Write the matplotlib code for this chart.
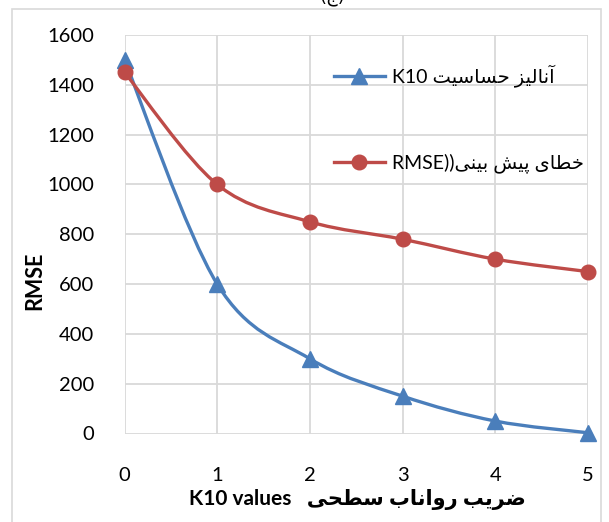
import matplotlib
matplotlib.use("Agg")
import matplotlib.pyplot as plt
from matplotlib.path import Path
from matplotlib.patches import PathPatch, Rectangle
from matplotlib.lines import Line2D

# chart data
k_values = [0, 1, 2, 3, 4, 5]
sensitivity = [1500, 600, 300, 150, 50, 3]
rmse = [1450, 1000, 850, 780, 700, 650]
y_ticks = [0, 200, 400, 600, 800, 1000, 1200, 1400, 1600]

label_sens = "آنالیز حساسیت"
label_rmse = "خطای پیش بینی"
x_title = "ضریب رواناب سطحی"
chart_title = "ج"

# arabic presentation forms: isolated, final, initial, medial
FORMS = {
    "آ": ("\uFE81", "\uFE82", None, None),
    "ا": ("\uFE8D", "\uFE8E", None, None),
    "ب": ("\uFE8F", "\uFE90", "\uFE91", "\uFE92"),
    "پ": ("\uFB56", "\uFB57", "\uFB58", "\uFB59"),
    "ت": ("\uFE95", "\uFE96", "\uFE97", "\uFE98"),
    "ج": ("\uFE9D", "\uFE9E", "\uFE9F", "\uFEA0"),
    "ح": ("\uFEA1", "\uFEA2", "\uFEA3", "\uFEA4"),
    "خ": ("\uFEA5", "\uFEA6", "\uFEA7", "\uFEA8"),
    "ر": ("\uFEAD", "\uFEAE", None, None),
    "ز": ("\uFEAF", "\uFEB0", None, None),
    "س": ("\uFEB1", "\uFEB2", "\uFEB3", "\uFEB4"),
    "ش": ("\uFEB5", "\uFEB6", "\uFEB7", "\uFEB8"),
    "ض": ("\uFEBD", "\uFEBE", "\uFEBF", "\uFEC0"),
    "ط": ("\uFEC1", "\uFEC2", "\uFEC3", "\uFEC4"),
    "ل": ("\uFEDD", "\uFEDE", "\uFEDF", "\uFEE0"),
    "ن": ("\uFEE5", "\uFEE6", "\uFEE7", "\uFEE8"),
    "و": ("\uFEED", "\uFEEE", None, None),
    "ی": ("\uFBFC", "\uFBFD", "\uFBFE", "\uFBFF"),
}


def shape(text):
    # join letters and return them in display (left-to-right) order
    out = []
    for i, ch in enumerate(text):
        if ch not in FORMS:
            out.append(ch)
            continue
        prev = text[i - 1] if i > 0 else ""
        nxt = text[i + 1] if i + 1 < len(text) else ""
        join_prev = prev in FORMS and FORMS[prev][2] is not None
        join_next = FORMS[ch][2] is not None and nxt in FORMS
        iso, fin, ini, med = FORMS[ch]
        if join_prev and join_next:
            out.append(med)
        elif join_prev:
            out.append(fin)
        elif join_next:
            out.append(ini)
        else:
            out.append(iso)
    return "".join(reversed(out))


def smooth_path(xs, ys):
    # catmull-rom style bezier through every point
    verts = [(xs[0], ys[0])]
    codes = [Path.MOVETO]
    n = len(xs)
    for i in range(n - 1):
        x0, y0 = (xs[i - 1], ys[i - 1]) if i > 0 else (xs[i], ys[i])
        x1, y1 = xs[i], ys[i]
        x2, y2 = xs[i + 1], ys[i + 1]
        x3, y3 = (xs[i + 2], ys[i + 2]) if i + 2 < n else (x2, y2)
        verts += [(x1 + (x2 - x0) / 6, y1 + (y2 - y0) / 6),
                  (x2 - (x3 - x1) / 6, y2 - (y3 - y1) / 6),
                  (x2, y2)]
        codes += [Path.CURVE4] * 3
    return Path(verts, codes)


plt.rcParams['font.family'] = ['Lato', 'DejaVu Sans']

blue = '#4a7ebb'
red = '#be4b48'
grid = '#d9d9d9'

fig = plt.figure(figsize=(6.09, 5.22), dpi=100)
fig.patches.append(Rectangle((12 / 609, -0.1), 589 / 609, 1 - 9 / 522 + 0.1,
                             transform=fig.transFigure, fill=False,
                             edgecolor=grid, linewidth=1.2))
fig.text(0.545, 1.0 + 3 / 522, "(" + shape(chart_title) + ")", ha='center',
         va='center', fontsize=13, family=['DejaVu Sans'])

ax = fig.add_axes([124.5 / 609, 1 - 433.5 / 522, 463.5 / 609, 398.5 / 522])
ax.set_xlim(0, 5)
ax.set_ylim(0, 1600)
ax.set_xticks(k_values)
ax.set_yticks(y_ticks)
ax.grid(True, color=grid, linewidth=1.3)
ax.set_axisbelow(True)
for s in ax.spines.values():
    s.set_visible(False)
ax.tick_params(length=0, labelsize=14.5, colors='black')
ax.tick_params(axis='x', pad=24)
ax.tick_params(axis='y', pad=22)

ax.add_patch(PathPatch(smooth_path(k_values, sensitivity), fill=False,
                       edgecolor=blue, linewidth=2.4, clip_on=False))
ax.add_patch(PathPatch(smooth_path(k_values, rmse), fill=False,
                       edgecolor=red, linewidth=2.4, clip_on=False))
ax.plot(k_values, sensitivity, linestyle='none', marker='^', markersize=11,
        color=blue, clip_on=False, zorder=4)
ax.plot(k_values, rmse, linestyle='none', marker='o', markersize=10.5,
        color=red, clip_on=False, zorder=4)

handles = [Line2D([], [], color=blue, linewidth=2.4, marker='^', markersize=11),
           Line2D([], [], color=red, linewidth=2.4, marker='o', markersize=10.5)]
labels = ["K10 " + shape(label_sens), "RMSE))" + shape(label_rmse)]
ax.legend(handles, labels, loc='upper left', bbox_to_anchor=(0.452, 0.927),
          frameon=False, fontsize=14, labelspacing=3.42, handlelength=2.6,
          handletextpad=0.4, borderaxespad=0, borderpad=0)

fig.text(357 / 609, 1 - 500 / 522, "K10 values   " + shape(x_title),
         ha='center', va='center', fontsize=15, fontweight='bold')
fig.text(35 / 609, 1 - 281 / 522, "RMSE", rotation=90, ha='center',
         va='center', fontsize=15.5, fontweight='bold')

fig.savefig("out.png", dpi=100)
